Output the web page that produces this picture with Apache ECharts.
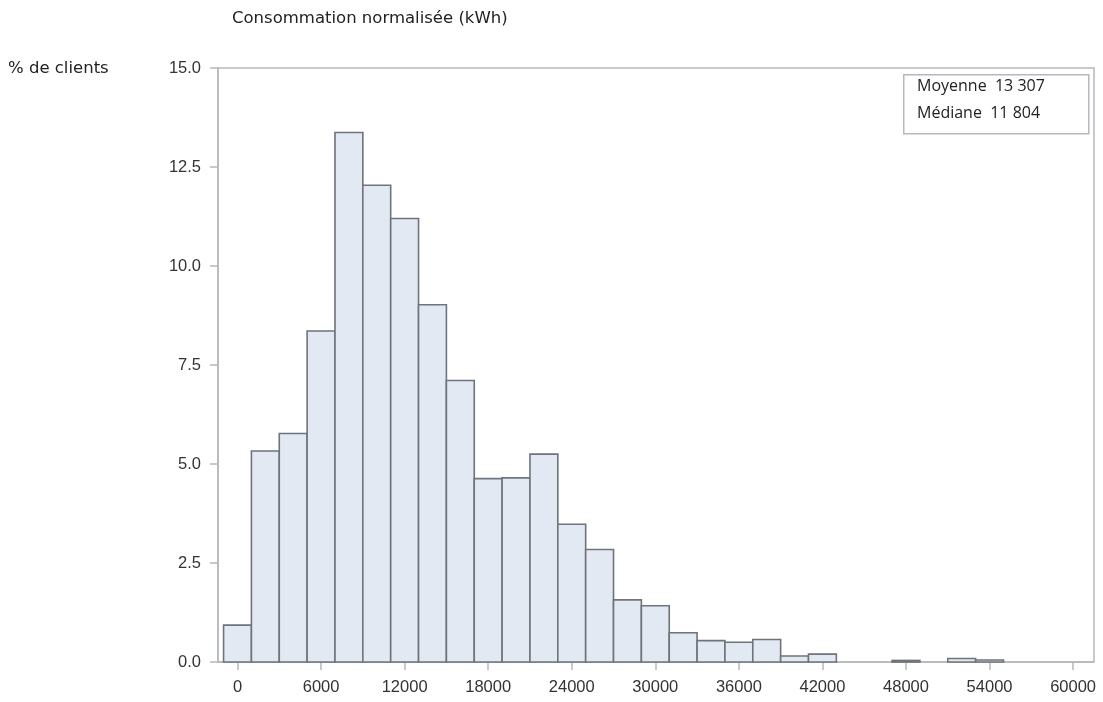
<!DOCTYPE html>
<html><head><meta charset="utf-8">
<script src="https://cdn.jsdelivr.net/npm/echarts@6/dist/echarts.min.js"></script>
<style>html,body{margin:0;padding:0;background:#fff}#c{width:1103px;height:702px}</style>
</head><body><div id="c"></div>
<script>
// Bin centers (kWh), bin width 2000
const binCenters = [0,2000,4000,6000,8000,10000,12000,14000,16000,18000,20000,22000,24000,26000,28000,30000,32000,34000,36000,38000,40000,42000,44000,46000,48000,50000,52000,54000,56000,58000,60000];
const pctClients = [0.93,5.33,5.77,8.36,13.37,12.04,11.2,9.02,7.11,4.63,4.65,5.25,3.48,2.84,1.57,1.42,0.74,0.54,0.5,0.57,0.15,0.2,0,0,0.04,0,0.09,0.05,0,0,0];
const binWidth = 2000;
const xTicks = [0,6000,12000,18000,24000,30000,36000,42000,48000,54000,60000];
const yTicks = [0,2.5,5,7.5,10,12.5,15];
const statLabels = ['Moyenne','Médiane'];
const statValues = ['13 307','11 804'];
const xTitle = 'Consommation normalisée (kWh)';
const yTitle = '% de clients';

const chart = echarts.init(document.getElementById('c'), null, {renderer:'canvas'});
const data = binCenters.map((c,i)=>[c, pctClients[i]]);
const font = 'Liberation Sans';
chart.setOption({
  animation:false,
  grid:{left:218,right:9,top:68,bottom:40,show:true,borderColor:'#b5b8bc',borderWidth:1.5,backgroundColor:'transparent'},
  xAxis:{type:'value',min:-1400,max:61500,
    axisLine:{show:true,onZero:false,lineStyle:{color:'#b5b8bc',width:1.5}},
    axisTick:{show:true,customValues:xTicks,length:8,lineStyle:{color:'#b5b8bc',width:1.5}},
    axisLabel:{customValues:xTicks,color:'#333',fontSize:16.5,fontFamily:font,margin:17,formatter:v=>String(v)},
    splitLine:{show:false}},
  yAxis:{type:'value',min:0,max:15,interval:2.5,
    axisLine:{show:true,onZero:false,lineStyle:{color:'#b5b8bc',width:1.5}},
    axisTick:{show:true,length:8,lineStyle:{color:'#b5b8bc',width:1.5}},
    axisLabel:{color:'#333',fontSize:16.5,fontFamily:font,margin:17,formatter:v=>v.toFixed(1)},
    splitLine:{show:false}},
  series:[{type:'custom',data:data,
    renderItem:function(params,api){
      const x=api.value(0), y=api.value(1);
      if(y<=0) return null;
      const p0=api.coord([x-binWidth/2,y]);
      const p1=api.coord([x+binWidth/2,0]);
      return {type:'rect',shape:{x:p0[0],y:p0[1],width:p1[0]-p0[0],height:p1[1]-p0[1]},
        style:{fill:'#e3e9f3',stroke:'#6f747c',lineWidth:1.6}};
    }}],
  graphic:[
    {type:'text',left:232,top:10,style:{text:xTitle,font:'16.5px "DejaVu Sans", sans-serif',fill:'#222'}},
    {type:'text',left:8,top:60,style:{text:yTitle,font:'16.5px "DejaVu Sans", sans-serif',fill:'#222'}},
    {type:'rect',left:903,top:74,shape:{width:185,height:59},style:{fill:'#fff',stroke:'#b5b8bc',lineWidth:1.5}},
    {type:'text',left:917,top:78,style:{text:statLabels[0]+'  '+statValues[0],font:'16px "Open Sans", sans-serif',fill:'#222'}},
    {type:'text',left:917,top:105,style:{text:statLabels[1]+'  '+statValues[1],font:'16px "Open Sans", sans-serif',fill:'#222'}}
  ]
});
</script></body></html>
